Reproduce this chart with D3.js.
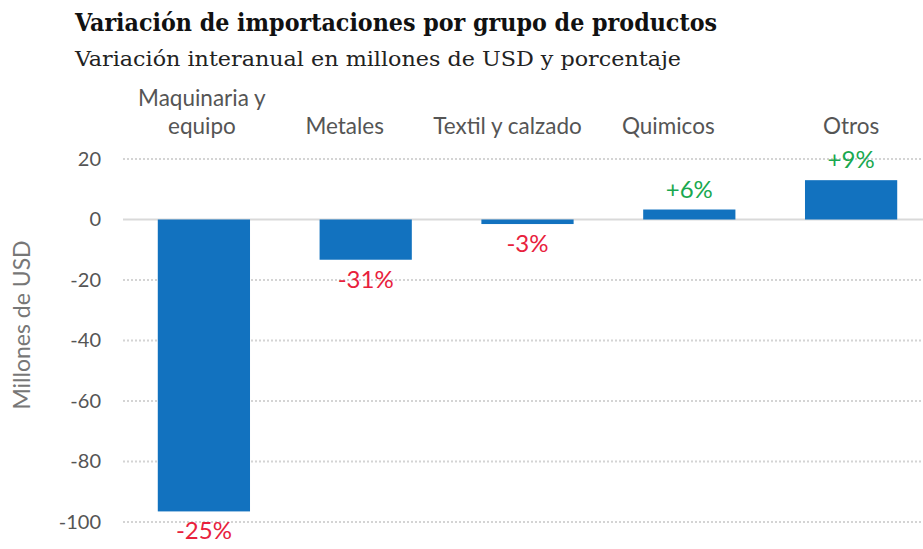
<!DOCTYPE html>
<html>
<head>
<meta charset="utf-8">
<script src="https://cdn.jsdelivr.net/npm/d3@7"></script>
<style>
  body { margin: 0; background: #fff; }
</style>
</head>
<body>
<div id="chart"></div>
<script>
// Import variation by product group (millions USD) and year-on-year %
const categories = [["Maquinaria y", "equipo"], ["Metales"], ["Textil y calzado"], ["Quimicos"], ["Otros"]];
const values = [-96.5, -13.3, -1.5, 3.3, 13];
const pctLabels = ["-25%", "-31%", "-3%", "+6%", "+9%"];
const yTicks = [20, 0, -20, -40, -60, -80, -100];

const W = 923, H = 549;
const margin = { top: 159, right: -9, bottom: 27, left: 123 };
// the header labels don't sit exactly over the bars in the original
const labelShift = [-2, -21, -20, -21, 0];

const svg = d3.select("#chart")
    .append("svg")
    .attr("width", W)
    .attr("height", H);

const x = d3.scaleBand()
    .domain(d3.range(categories.length))
    .range([margin.left, W - margin.right])
    .paddingInner(0.43)
    .paddingOuter(0.215);

const y = d3.scaleLinear()
    .domain([-100, 20])
    .range([H - margin.bottom, margin.top]);

// Titles
svg.append("text")
    .attr("x", 75).attr("y", 31)
    .attr("font-family", "DejaVu Serif Condensed, DejaVu Serif")
    .attr("font-weight", "bold")
    .attr("font-size", 24)
    .attr("fill", "#111")
    .attr("textLength", 642)
    .attr("lengthAdjust", "spacingAndGlyphs")
    .text("Variación de importaciones por grupo de productos");

svg.append("text")
    .attr("x", 75).attr("y", 66)
    .attr("font-family", "DejaVu Serif Condensed, DejaVu Serif")
    .attr("font-size", 21)
    .attr("fill", "#222")
    .attr("textLength", 606)
    .attr("lengthAdjust", "spacingAndGlyphs")
    .text("Variación interanual en millones de USD y porcentaje");

// Gridlines
svg.append("g")
    .selectAll("line")
    .data(yTicks)
    .join("line")
    .attr("x1", margin.left)
    .attr("x2", W)
    .attr("y1", d => y(d))
    .attr("y2", d => y(d))
    .attr("stroke", d => d === 0 ? "#d9d9d9" : "#d4d4d4")
    .attr("stroke-width", 2)
    .attr("stroke-dasharray", d => d === 0 ? null : "2,2");

// Y axis labels
const yAxis = svg.append("g")
    .attr("transform", `translate(${margin.left - 22},0)`)
    .call(d3.axisLeft(y).tickValues(yTicks).tickFormat(d => String(d)).tickSize(0).tickPadding(0));
yAxis.select(".domain").remove();
yAxis.selectAll("text")
    .attr("font-family", "Lato")
    .attr("font-size", 20)
    .attr("fill", "#555");

svg.append("text")
    .attr("transform", `translate(30,325) rotate(-90)`)
    .attr("text-anchor", "middle")
    .attr("font-family", "Lato")
    .attr("font-size", 23)
    .attr("fill", "#777")
    .text("Millones de USD");

// Bars
svg.append("g")
    .selectAll("rect")
    .data(values)
    .join("rect")
    .attr("x", (d, i) => x(i))
    .attr("width", x.bandwidth())
    .attr("y", d => y(Math.max(0, d)))
    .attr("height", d => Math.abs(y(d) - y(0)))
    .attr("fill", "#1272bf");

// Percentage labels
svg.append("g")
    .selectAll("text")
    .data(values)
    .join("text")
    .attr("x", (d, i) => x(i) + x.bandwidth() / 2)
    .attr("y", d => d < 0 ? y(d) + 28 : y(d) - 12)
    .attr("text-anchor", "middle")
    .attr("font-family", "Lato")
    .attr("font-size", 24)
    .attr("fill", d => d < 0 ? "#e8213c" : "#19a84f")
    .text((d, i) => pctLabels[i]);

// Category labels on top
const cat = svg.append("g")
    .selectAll("text")
    .data(categories)
    .join("text")
    .attr("x", (d, i) => x(i) + x.bandwidth() / 2 + labelShift[i])
    .attr("y", d => 134 - (d.length - 1) * 28)
    .attr("text-anchor", "middle")
    .attr("font-family", "Lato")
    .attr("font-size", 22.5)
    .attr("fill", "#555");
cat.selectAll("tspan")
    .data(d => d)
    .join("tspan")
    .attr("x", function() { return d3.select(this.parentNode).attr("x"); })
    .attr("dy", (d, i) => i === 0 ? 0 : 28)
    .text(d => d);
</script>
</body>
</html>
